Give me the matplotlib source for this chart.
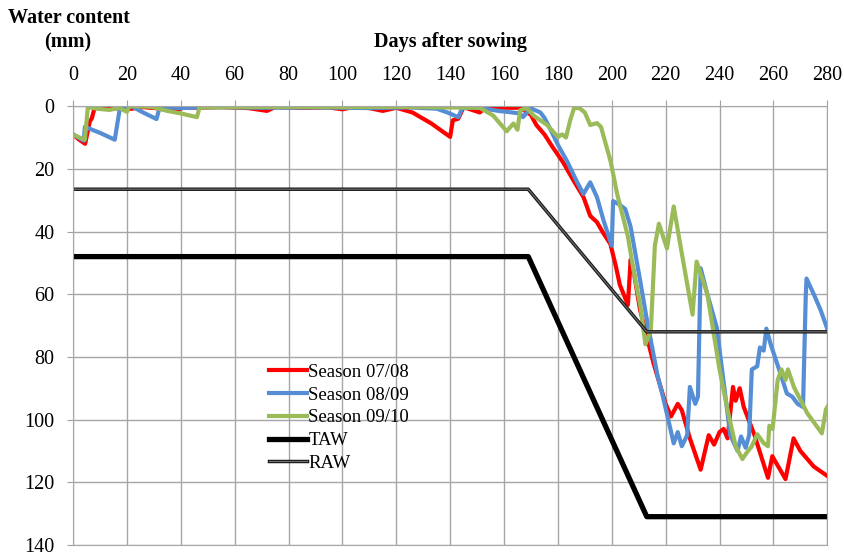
import matplotlib.pyplot as plt

# data (days after sowing, water content in mm)
red_days = [0, 2, 4.5, 6.2, 7, 8, 14, 20, 26, 33, 38, 41, 45, 55, 65, 72, 75, 85, 95, 100, 104, 110, 115, 120, 126,
            133, 140, 141, 143, 145, 151, 153, 160, 166, 170, 172, 175, 178, 182, 186, 189.5, 192, 194.5, 196.5,
            199.5, 201.5, 203, 206, 207, 208, 210.5, 215.5, 220, 222, 224.5, 226, 229, 233, 236, 238, 240, 241.5,
            243, 245, 246, 247.5, 249, 253, 258, 259.6, 264.5, 267.5, 270, 275, 280]
red_mm = [9, 10.5, 12, 5, 3.8, 0.6, 0.5, 1, 0.3, 0.8, 1.5, 0.4, 0.5, 0.3, 0.6, 1.5, 0.3, 0.5, 0.4, 1, 0.3, 0.6, 1.5, 0.5, 2,
          5.5, 9.8, 4.5, 4, 0.3, 2, 0.5, 0.5, 0.5, 2.8, 6, 9, 13, 18, 24, 29, 35, 37, 40,
          44, 51, 57, 63.4, 49, 52, 65, 82, 95, 99, 95, 97, 106, 116, 105, 108, 104, 103,
          106, 89.6, 94, 90, 96, 105, 118.6, 111.7, 119, 106, 110, 115, 118]

blue_days = [0, 4, 4.4, 10, 15.5, 17.4, 20, 21.8, 26, 31, 32.2, 40, 50, 70, 90, 110, 125, 135, 139, 143, 144.5, 150,
             158, 166, 167, 170, 173.5, 175, 177, 180, 183.5, 187, 189.5, 192, 194.5, 197, 200, 200.5, 202.5, 205,
             207, 210.5, 213, 217, 219, 223, 224.5, 226, 228, 229, 231, 232, 233, 235.5, 239, 244, 246.7, 248,
             249.7, 251, 252, 254, 255, 256.4, 257.4, 259, 262.7, 265, 267, 269, 271, 272, 272.3, 275, 277.5, 280]
blue_mm = [9, 11, 6.6, 8.5, 10.7, 0.6, 0.2, 0, 2, 4.1, 0.2, 0.6, 0.3, 0.5, 0.4, 0.6, 0.4, 0.8, 2, 3.5, 0.6, 0.4,
           1.5, 2.3, 3.5, 0.7, 2, 3.7, 7, 12.3, 17.7, 24, 28, 24.3, 29, 36.6, 44.5, 30.3, 31.2, 32.8,
           38.5, 55.5, 68, 86, 92.7, 107.6, 104, 108.5, 105, 89.6, 95, 92.7, 51.7, 60, 70.7, 105, 110, 105.4,
           109, 105, 84, 83, 77, 78, 71, 76, 85.5, 91.7, 92.7, 95, 96, 61, 55, 60, 65, 71]

green_days = [0, 4.4, 5.5, 9, 13.6, 17, 20, 21, 29, 35, 40, 46, 47, 60, 80, 100, 120, 140, 151, 156, 161, 163.5, 165,
              166, 168.5, 171, 176, 180, 181.6, 183, 184.6, 186, 188, 190, 192, 194.5, 196, 199.6, 202, 206, 208,
              210.6, 212.5, 214.5, 216, 217.5, 220.5, 223, 225.5, 230, 231.5, 235.5, 240, 243, 246, 248.5, 250,
              252, 254, 256.5, 258, 258.5, 259.7, 261.6, 263, 264.5, 265.4, 267.6, 272.6, 278, 279.5, 280]
green_mm = [9.1, 10.7, 0.3, 0.8, 1.2, 0.5, 1.8, 0, 0.2, 1.5, 2.3, 3.5, 0.4, 0.3, 0.2, 0.3, 0.2, 0.4, 0.5, 3, 8, 5.5, 7.5,
            1.3, 0.6, 3, 6, 9.8, 9, 10, 4.4, 0.6, 0.6, 2, 6, 5.4, 6.6, 17.7, 28, 41.6, 52,
            63.7, 76, 71.6, 44.5, 37.5, 45.4, 32, 44.5, 66.5, 49.6, 60, 84, 97, 108.5, 112.6, 110.7,
            108.5, 104.7, 107.6, 108.5, 102, 103, 87.4, 84, 87.4, 84, 89.6, 98, 104.4, 96.8, 96]

taw_days = [0, 169, 213, 280]
taw_mm = [48, 48, 131, 131]
raw_days = [0, 169, 213, 280]
raw_mm = [26.5, 26.5, 72, 72]

plt.rcParams['font.family'] = 'Liberation Serif'
fig = plt.figure(figsize=(8.45, 5.56), dpi=100)
ax = fig.add_axes([0.0864, 0.02, 0.8926, 0.789])

ax.plot(red_days, red_mm, color='#ff0000', lw=3, label='Season 07/08')
ax.plot(blue_days, blue_mm, color='#558ed5', lw=3, label='Season 08/09')
ax.plot(green_days, green_mm, color='#9bbb59', lw=3, label='Season 09/10')
ax.plot(taw_days, taw_mm, color='black', lw=3.8, label='TAW')
raw_line, = ax.plot(raw_days, raw_mm, color='#1a1a1a', lw=2.5)
raw_inner, = ax.plot(raw_days, raw_mm, color='#707070', lw=0.8)

ax.set_xlim(0, 280)
ax.set_ylim(140, 0)
ax.set_xticks(range(0, 281, 20))
ax.set_yticks(range(0, 141, 20))
ax.xaxis.tick_top()
ax.tick_params(labelsize=14.5, colors='#a0a0a0', labelcolor='black', length=4.3, direction='out')
ax.tick_params(axis='y', pad=9)
ax.tick_params(axis='x', pad=11)
ax.grid(True, color='#a6a6a6', lw=1)
ax.set_axisbelow(True)
for s in ax.spines.values():
    s.set_color('#a6a6a6')

handles, labels = ax.get_legend_handles_labels()
handles.append((raw_line, raw_inner))
labels.append('RAW')
ax.legend(handles, labels, loc='upper left', bbox_to_anchor=(0.25, 0.43), frameon=False,
          fontsize=13.5, handlelength=2.0, handletextpad=0.1, labelspacing=0.3, borderaxespad=0)

fig.text(0.010, 0.968, 'Water content', fontsize=14.5, fontweight='bold', va='center')
fig.text(0.052, 0.924, '(mm)', fontsize=14.5, fontweight='bold', va='center')
fig.text(0.533, 0.924, 'Days after sowing', fontsize=14.5, fontweight='bold', ha='center', va='center')

fig.savefig('out.png', dpi=100)
